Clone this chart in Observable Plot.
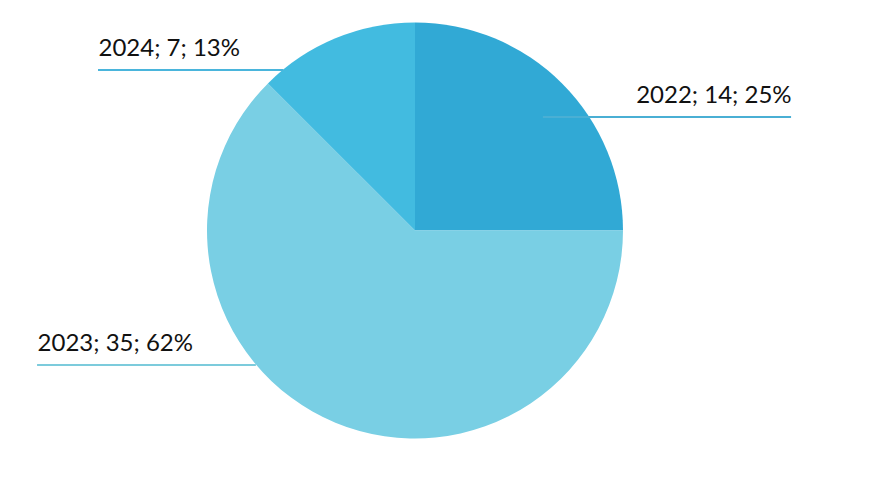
<!DOCTYPE html>
<html>
<head>
<meta charset="utf-8">
<script src="https://cdn.jsdelivr.net/npm/d3@7"></script>
<script src="https://cdn.jsdelivr.net/npm/@observablehq/plot@0.6"></script>
<style>
  html, body { margin: 0; padding: 0; background: #fff; }
  svg { display: block; }
</style>
</head>
<body>
<div id="chart"></div>
<script>
// Data
const years = ["2022", "2023", "2024"];
const counts = [14, 35, 7];
const percents = ["25%", "62%", "13%"];
const colors = ["#31a9d5", "#79cfe4", "#42bbe0"];
const lineColors = ["#4aafd4", "#7ccbdc", "#4ab5dc"];

// Layout (in pie-radius units; center at 0,0)
const labelLayout = [
  {v: 0.548, end: 1.808, inner: 0.615, side: "right"},
  {v: -0.644, end: -1.817, side: "left"},
  {v: 0.774, end: -1.524, side: "left"}
];

const pie = d3.pie().sort(null).value(d => d.count).startAngle(0);
const rows = years.map((y, i) => ({year: y, count: counts[i], pct: percents[i], color: colors[i], lineColor: lineColors[i], ...labelLayout[i]}));
const arcs = pie(rows);

// leader lines
const lines = rows.map(r => {
  const edge = Math.sqrt(1 - r.v * r.v);
  const start = r.side === "right" ? r.inner : -edge;
  return {x1: start, x2: r.end, y: r.v, color: r.lineColor};
});
const labels = rows.map(r => ({
  x: r.end, y: r.v, text: `${r.year}; ${r.count}; ${r.pct}`,
  anchor: r.side === "right" ? "end" : "start"
}));

const R = 208;
const cx = 415, cy = 230.5;
const W = 879, H = 492;

function pieMark(index, scales, values, dimensions) {
  const x0 = scales.x(0), y0 = scales.y(0);
  const r = scales.x(1) - scales.x(0);
  const arc = d3.arc().innerRadius(0).outerRadius(r);
  const g = d3.create("svg:g").attr("transform", `translate(${x0},${y0})`);
  g.selectAll("path").data(arcs).join("path")
    .attr("d", arc)
    .attr("fill", d => d.data.color);
  return g.node();
}

const font = "Lato, 'Open Sans', sans-serif";
const chart = Plot.plot({
  width: W,
  height: H,
  margin: 0,
  x: {domain: [-cx / R, (W - cx) / R], axis: null},
  y: {domain: [-(H - cy) / R, cy / R], axis: null},
  marks: [
    pieMark,
    Plot.ruleY(lines, {y: "y", x1: "x1", x2: "x2", stroke: "color", strokeWidth: 2}),
    Plot.text(labels.filter(d => d.anchor === "end"), {x: "x", y: "y", text: "text", textAnchor: "end", dy: -22, fill: "#111", fontSize: 24, fontFamily: font}),
    Plot.text(labels.filter(d => d.anchor === "start"), {x: "x", y: "y", text: "text", textAnchor: "start", dy: -22, fill: "#111", fontSize: 24, fontFamily: font})
  ]
});
document.getElementById("chart").appendChild(chart);
</script>
</body>
</html>
